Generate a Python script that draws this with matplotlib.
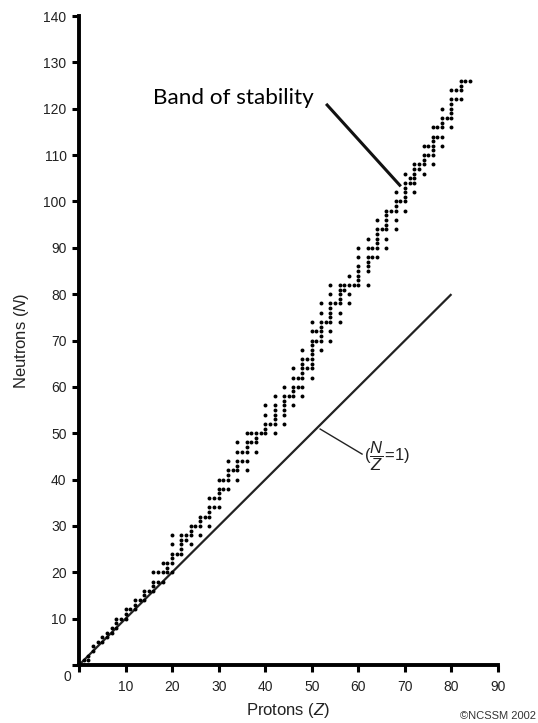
import matplotlib
matplotlib.use("Agg")
import matplotlib.pyplot as plt

# Stable nuclides: proton number Z and neutron numbers N for each Z
stable = {
    1: [0, 1], 2: [1, 2], 3: [3, 4], 4: [5], 5: [5, 6], 6: [6, 7], 7: [7, 8],
    8: [8, 9, 10], 9: [10], 10: [10, 11, 12], 11: [12], 12: [12, 13, 14],
    13: [14], 14: [14, 15, 16], 15: [16], 16: [16, 17, 18, 20], 17: [18, 20],
    18: [18, 20, 22], 19: [20, 21, 22], 20: [20, 22, 23, 24, 26, 28], 21: [24],
    22: [24, 25, 26, 27, 28], 23: [27, 28], 24: [26, 28, 29, 30], 25: [30],
    26: [28, 30, 31, 32], 27: [32], 28: [30, 32, 33, 34, 36], 29: [34, 36],
    30: [34, 36, 37, 38, 40], 31: [38, 40], 32: [38, 40, 41, 42, 44], 33: [42],
    34: [40, 42, 43, 44, 46, 48], 35: [44, 46], 36: [42, 44, 46, 47, 48, 50],
    37: [48, 50], 38: [46, 48, 49, 50], 39: [50], 40: [50, 51, 52, 54, 56],
    41: [52], 42: [50, 52, 53, 54, 55, 56, 58],
    44: [52, 54, 55, 56, 57, 58, 60], 45: [58], 46: [56, 58, 59, 60, 62, 64],
    47: [60, 62], 48: [58, 60, 62, 63, 64, 65, 66, 68], 49: [64, 66],
    50: [62, 64, 65, 66, 67, 68, 69, 70, 72, 74], 51: [70, 72],
    52: [68, 70, 71, 72, 73, 74, 76, 78], 53: [74],
    54: [70, 72, 74, 75, 76, 77, 78, 80, 82], 55: [78],
    56: [74, 76, 78, 79, 80, 81, 82], 57: [81, 82], 58: [78, 80, 82, 84],
    59: [82], 60: [82, 83, 84, 85, 86, 88, 90],
    62: [82, 85, 86, 87, 88, 90, 92], 63: [88, 90],
    64: [88, 90, 91, 92, 93, 94, 96], 65: [94],
    66: [90, 92, 94, 95, 96, 97, 98], 67: [98], 68: [94, 96, 98, 99, 100, 102],
    69: [100], 70: [98, 100, 101, 102, 103, 104, 106], 71: [104, 105],
    72: [102, 104, 105, 106, 107, 108], 73: [107, 108],
    74: [106, 108, 109, 110, 112], 75: [110, 112],
    76: [108, 110, 111, 112, 113, 114, 116], 77: [114, 116],
    78: [112, 114, 116, 117, 118, 120], 79: [118],
    80: [116, 118, 119, 120, 121, 122, 124], 81: [122, 124],
    82: [122, 124, 125, 126], 83: [126], 84: [126],
}
protons = [z for z, ns in stable.items() for n in ns]
neutrons = [n for z, ns in stable.items() for n in ns]

nz_line_z = [0, 80]
nz_line_n = [0, 80]

x_ticks = [0, 10, 20, 30, 40, 50, 60, 70, 80, 90]
x_labels = ["", "10", "20", "30", "40", "50", "60", "70", "80", "90"]
y_ticks = [0, 10, 20, 30, 40, 50, 60, 70, 80, 90, 100, 110, 120, 130, 140]
y_labels = [""] + [str(v) for v in y_ticks[1:]]

plt.rcParams['font.family'] = ['Liberation Sans', 'DejaVu Sans']
plt.rcParams['mathtext.fontset'] = 'custom'
plt.rcParams['mathtext.rm'] = 'Liberation Sans'
plt.rcParams['mathtext.it'] = 'Liberation Sans:italic'

fig = plt.figure(figsize=(5.38, 7.23), dpi=100)
ax = fig.add_axes([79/538, 58/723, 419/538, 649/723])

ax.scatter(protons, neutrons, s=8, color='black', linewidths=0, zorder=3)
ax.plot(nz_line_z, nz_line_n, color='#222222', lw=1.6, solid_capstyle='butt')

ax.set_xlim(0, 90)
ax.set_ylim(0, 140)
ax.set_xticks(x_ticks)
ax.set_xticklabels(x_labels)
ax.set_yticks(y_ticks)
ax.set_yticklabels(y_labels)
for s in ['top', 'right']:
    ax.spines[s].set_visible(False)
for s in ['left', 'bottom']:
    ax.spines[s].set_linewidth(2.8)
ax.tick_params(axis='both', direction='out', length=5, width=2.2,
               labelsize=10, colors='black', labelcolor='#222222', pad=4)
ax.tick_params(axis='x', pad=6)

ax.text(-2.4, -2.6, "0", ha='center', va='center', fontsize=10, color='#222222',
        clip_on=False)

ax.set_xlabel(r"Protons ($\mathit{Z}$)", fontsize=12, color='#222222', labelpad=5)
ax.set_ylabel(r"Neutrons ($\mathit{N}$)", fontsize=12, color='#222222', labelpad=9)

# Band of stability annotation
ax.plot([53.3, 68.9], [120.8, 103.5], color='#111111', lw=2.2, clip_on=False)
ax.text(15.9, 122.3, "Band of stability", ha='left', va='center', fontsize=16.2,
        family=['Lato', 'DejaVu Sans'], color='black')

# N/Z = 1 annotation
ax.plot([51.8, 60.8], [50.9, 45.5], color='#222222', lw=1.0)
ax.text(61.2, 45.0, r"$(\dfrac{\mathit{N}}{\mathit{Z}}\!=\!1)$", ha='left',
        va='center', fontsize=12, color='#222222')

fig.text(536/538, 1 - 716/723, "©NCSSM 2002", ha='right', va='center',
         fontsize=8, color='#333333')

fig.savefig("out.png", dpi=100)
